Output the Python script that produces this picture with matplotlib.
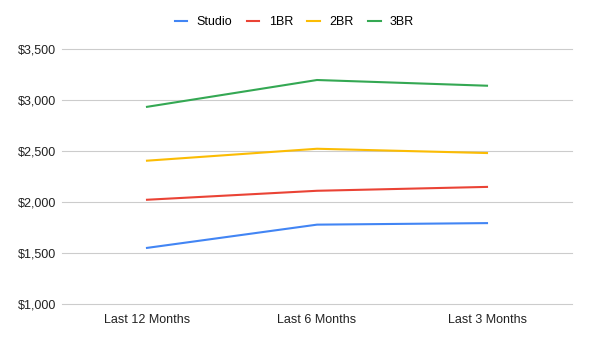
import matplotlib
matplotlib.use("Agg")
from matplotlib import pyplot as plt
from matplotlib.ticker import FuncFormatter

plt.rcParams["font.family"] = ["Liberation Sans", "DejaVu Sans"]

periods = ["Last 12 Months", "Last 6 Months", "Last 3 Months"]
studio = [1550, 1778, 1793]
one_br = [2022, 2110, 2148]
two_br = [2405, 2522, 2480]
three_br = [2933, 3196, 3140]

series = [
    ("Studio", studio, "#4285F4"),
    ("1BR", one_br, "#EA4335"),
    ("2BR", two_br, "#FBBC04"),
    ("3BR", three_br, "#34A853"),
]

fig = plt.figure(figsize=(5.89, 3.42), dpi=100)
ax = fig.add_axes([62 / 589, 1 - 304 / 342, 510 / 589, 255 / 342])

x = range(len(periods))
for name, vals, color in series:
    ax.plot(x, vals, color=color, linewidth=1.5, label=name)

ax.set_xlim(-0.5, 2.5)
ax.set_ylim(1000, 3500)
ax.set_yticks([1000, 1500, 2000, 2500, 3000, 3500])
ax.yaxis.set_major_formatter(FuncFormatter(lambda v, p: "${:,.0f}".format(v)))
ax.set_xticks(list(x))
ax.set_xticklabels(periods)
ax.grid(axis="y", color="#cccccc", linewidth=0.8)
for gl in ax.get_ygridlines():
    gl.set_clip_on(False)
ax.set_axisbelow(True)
for s in ax.spines.values():
    s.set_visible(False)
ax.tick_params(length=0, labelsize=9, colors="#222222", pad=7)
ax.tick_params(axis="y", pad=4)

fig.legend(loc="center", bbox_to_anchor=(0.5, 1 - 22 / 342), ncol=4, frameon=False,
           fontsize=9, handlelength=1.0, columnspacing=1.15, handletextpad=0.75)

fig.savefig("out.png", dpi=100)
